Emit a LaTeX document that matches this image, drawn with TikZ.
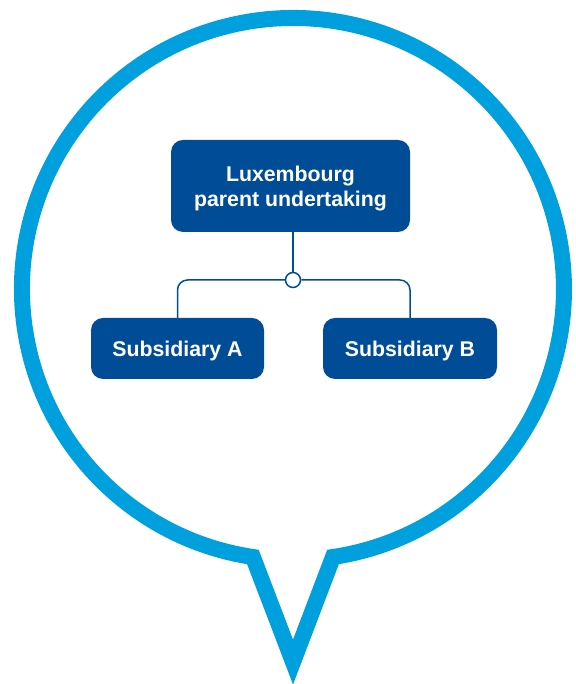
\documentclass[tikz,border=0pt]{standalone}
\usepackage{fontspec}
\setmainfont{Liberation Sans}
\definecolor{bubbleblue}{HTML}{009FDD}
\definecolor{boxblue}{HTML}{004C97}
\begin{document}
\begin{tikzpicture}[x=1pt,y=1pt,
  bubble/.style={draw=bubbleblue,line width=16pt,line join=miter,miter limit=10},
  orgbox/.style={fill=boxblue,rounded corners=12pt,text=white,
    font=\fontsize{21.3}{25}\selectfont\bfseries,align=center,inner sep=0pt,
    text depth=0pt},
  link/.style={draw=boxblue,line width=1.5pt},
  junction/.style={circle,draw=boxblue,line width=1.5pt,fill=white,minimum size=15pt,inner sep=0pt}]
\useasboundingbox (0,0) rectangle (575,684);
\draw[bubble] (333,127) arc[start angle=278.5,end angle=621.5,radius=271] -- (293,22) -- cycle;
\node[orgbox,minimum width=239pt,minimum height=92pt,text height=40.25pt] (top) at (290.5,498) {Luxembourg\\parent undertaking};
\node[orgbox,minimum width=173pt,minimum height=61pt,text height=15.25pt] (subA) at (177.5,335.5) {Subsidiary A};
\node[orgbox,minimum width=174pt,minimum height=61pt,text height=15.25pt] (subB) at (410,335.5) {Subsidiary B};
\node[junction] (jn) at (293,404) {};
\draw[link] (top.south -| jn) -- (jn.north);
\draw[link,rounded corners=10pt] (jn.west) -| (subA.north);
\draw[link,rounded corners=10pt] (jn.east) -| (subB.north);
\end{tikzpicture}
\end{document}
